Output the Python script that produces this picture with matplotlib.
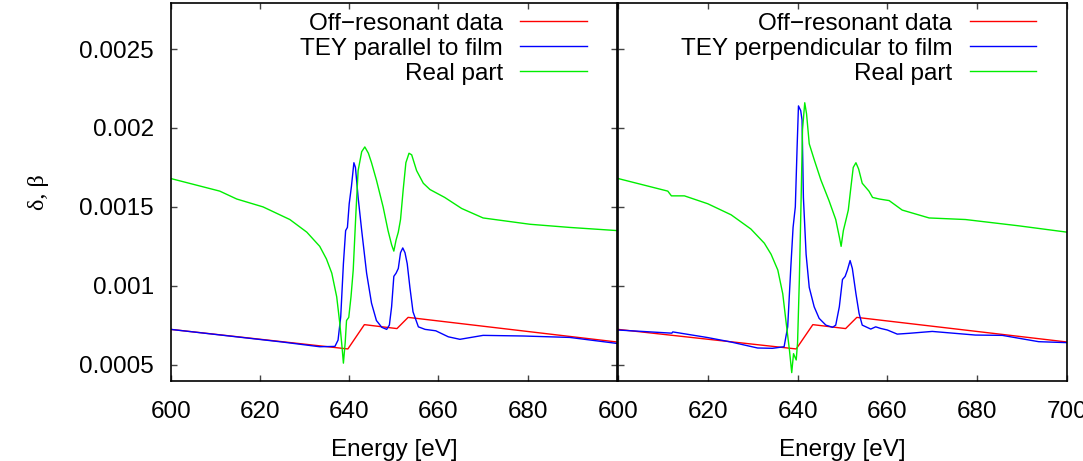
import matplotlib
matplotlib.use('Agg')
import matplotlib.pyplot as plt

plt.rcParams['font.family'] = ['Liberation Sans', 'DejaVu Sans']
plt.rcParams['font.size'] = 17.5

# off-resonant data (same in both panels)
off_e = [600, 639.7, 643.4, 650.7, 653.2, 700]
off_v = [0.000724, 0.000600, 0.000754, 0.000729, 0.000800, 0.000644]

# left panel: TEY parallel to film
par_e = [600, 615, 625, 633.4, 636.8, 637.5, 638.1, 638.7, 639.2, 639.6, 640.0, 640.5,
         641.05, 641.4, 642.0, 642.8, 643.9, 645.0, 646.1, 647.3, 648.4, 649.0, 649.5,
         650.0, 650.5, 651.0, 651.5, 652.0, 652.5, 653.0, 653.6, 654.3, 655.5, 657.0,
         659.4, 662.2, 664.8, 670.0, 679.0, 689.4, 700]
par_v = [0.000724, 0.000676, 0.000644, 0.000614, 0.000616, 0.000656, 0.000804, 0.00114,
         0.00135, 0.00137, 0.00152, 0.00163, 0.00178, 0.00175, 0.00156, 0.00135, 0.00108,
         0.00089, 0.00078, 0.000737, 0.000724, 0.000751, 0.000867, 0.00106, 0.00108,
         0.00111, 0.00121, 0.00124, 0.00121, 0.00114, 0.00099, 0.000835, 0.00074,
         0.000724, 0.000715, 0.000677, 0.000661, 0.000686, 0.000682, 0.000673, 0.000635]

re_par_e = [600, 611, 614.8, 620.7, 626.7, 630.5, 633.4, 634.9, 636.1, 637.2, 637.9, 638.4,
            638.7, 639.1, 639.4, 639.9, 640.4, 640.9, 641.5, 642.0, 642.8, 643.5, 644.3,
            645.0, 646.1, 647.6, 648.7, 649.5, 650.0, 650.5, 651.0, 651.5, 652.1, 652.7,
            653.4, 654.0, 655.1, 656.6, 658.1, 661.4, 665.2, 670.0, 680.5, 689.4, 700]
re_par_v = [0.00168, 0.00160, 0.00155, 0.00150, 0.00142, 0.00134, 0.00125, 0.00117, 0.00108,
            0.00093, 0.00076, 0.00061, 0.00051, 0.00064, 0.00078, 0.00080, 0.00093, 0.00110,
            0.00146, 0.00173, 0.00185, 0.00188, 0.00184, 0.00178, 0.00167, 0.00150, 0.00135,
            0.00126, 0.00122, 0.00129, 0.00134, 0.00142, 0.00161, 0.00178, 0.00184, 0.00183,
            0.00173, 0.00165, 0.00161, 0.00156, 0.00149, 0.00143, 0.00139, 0.00137, 0.00135]

# right panel: TEY perpendicular to film
perp_e = [600, 612.0, 612.2, 620, 625, 631.1, 634.4, 637.0, 637.8, 638.5, 639.0, 639.5,
          639.9, 640.2, 640.7, 641.0, 641.3, 641.9, 642.6, 643.7, 644.8, 646.3, 647.8,
          648.5, 649.3, 650.0, 650.6, 651.1, 651.7, 652.2, 653.0, 653.7, 654.4, 656.3,
          657.4, 658.5, 660.0, 662.2, 664.8, 670.0, 679.6, 685.6, 693.7, 700]
perp_v = [0.00072, 0.000700, 0.000708, 0.000672, 0.000645, 0.000606, 0.000604, 0.000614,
          0.00074, 0.00112, 0.00137, 0.00150, 0.00188, 0.00214, 0.00211, 0.00205, 0.00156,
          0.00120, 0.00099, 0.000867, 0.000794, 0.000751, 0.000737, 0.000751, 0.000867,
          0.00104, 0.00106, 0.00110, 0.00116, 0.00111, 0.00095, 0.000825, 0.000751,
          0.000726, 0.00074, 0.00073, 0.00072, 0.000694, 0.000699, 0.000711, 0.000688,
          0.000686, 0.000646, 0.00064]

re_perp_e = [600, 611.1, 611.9, 614.8, 620, 625.2, 629.6, 632.6, 634.1, 635.6, 636.7, 637.4,
             638.2, 638.7, 639.1, 639.4, 639.7, 640.0, 640.4, 640.8, 641.1, 641.6, 642.0,
             642.6, 643.7, 645.2, 647.0, 648.5, 649.3, 649.7, 650.2, 650.8, 651.3, 651.9,
             652.4, 653.0, 653.6, 654.4, 655.9, 656.7, 658.2, 660.4, 663.3, 669.3, 677.4,
             689.3, 700]
re_perp_v = [0.00168, 0.00160, 0.00157, 0.00157, 0.00152, 0.00145, 0.00136, 0.00127, 0.00120,
             0.00110, 0.00095, 0.00078, 0.00059, 0.00045, 0.00057, 0.00055, 0.00053, 0.00064,
             0.00104, 0.00156, 0.00199, 0.00216, 0.00209, 0.00190, 0.00180, 0.00167, 0.00154,
             0.00142, 0.00131, 0.00125, 0.00135, 0.00142, 0.00148, 0.00163, 0.00175, 0.00178,
             0.00174, 0.00165, 0.00160, 0.00156, 0.00155, 0.00154, 0.00148, 0.00143, 0.00142,
             0.00138, 0.00134]

xticks = [600, 620, 640, 660, 680, 700]
yticks = [0.0005, 0.001, 0.0015, 0.002, 0.0025]
ytick_labels = ['0.0005', '0.001', '0.0015', '0.002', '0.0025']


def key(ax, labels, colors):
    # gnuplot-style key: right aligned text, sample line after it
    rows = [0.953, 0.887, 0.8205]
    for lab, col, y in zip(labels, colors, rows):
        ax.text(0.745, y - 0.023, lab, transform=ax.transAxes, ha='right', va='baseline')
        ax.plot([0.783, 0.932], [y, y], transform=ax.transAxes, color=col, lw=1.0)


def style(ax):
    ax.set_xlim(600, 700)
    ax.set_ylim(0.0004, 0.00279)
    for s in ax.spines.values():
        s.set_linewidth(1.2)
    ax.tick_params(direction='in', length=4.5, width=1, color='#444444', pad=12)
    ax.tick_params(axis='x', pad=14.5)
    ax.set_xlabel('Energy [eV]', labelpad=12)


fig = plt.figure(figsize=(10.83, 4.61), dpi=100)
ax1 = fig.add_axes([0.1576, 0.1746, 0.4121, 0.8182])
ax2 = fig.add_axes([0.5706, 0.1746, 0.4146, 0.8182])

ax1.plot(off_e, off_v, color='#ff0000', lw=1.0)
ax1.plot(par_e, par_v, color='#0000ff', lw=1.0)
ax1.plot(re_par_e, re_par_v, color='#00ee00', lw=1.0)
style(ax1)
ax1.set_xticks(xticks)
ax1.set_xticklabels(['600', '620', '640', '660', '680', ''])
ax1.set_yticks(yticks)
ax1.set_yticklabels(ytick_labels)
ax1.tick_params(top=True, right=True)
ax1.set_ylabel('δ, β', family=['Liberation Serif', 'DejaVu Serif'], labelpad=22)
key(ax1, ['Off\u2212resonant data', 'TEY parallel to film', 'Real part'],
    ['#ff0000', '#0000ff', '#00ee00'])

ax2.plot(off_e, off_v, color='#ff0000', lw=1.0)
ax2.plot(perp_e, perp_v, color='#0000ff', lw=1.0)
ax2.plot(re_perp_e, re_perp_v, color='#00ee00', lw=1.0)
style(ax2)
ax2.set_xticks(xticks)
ax2.set_xticklabels(['600', '620', '640', '660', '680', '700'])
ax2.set_yticks(yticks)
ax2.set_yticklabels([])
ax2.tick_params(top=True, right=False)
key(ax2, ['Off\u2212resonant data', 'TEY perpendicular to film', 'Real part'],
    ['#ff0000', '#0000ff', '#00ee00'])

fig.savefig('out.png', dpi=100)
